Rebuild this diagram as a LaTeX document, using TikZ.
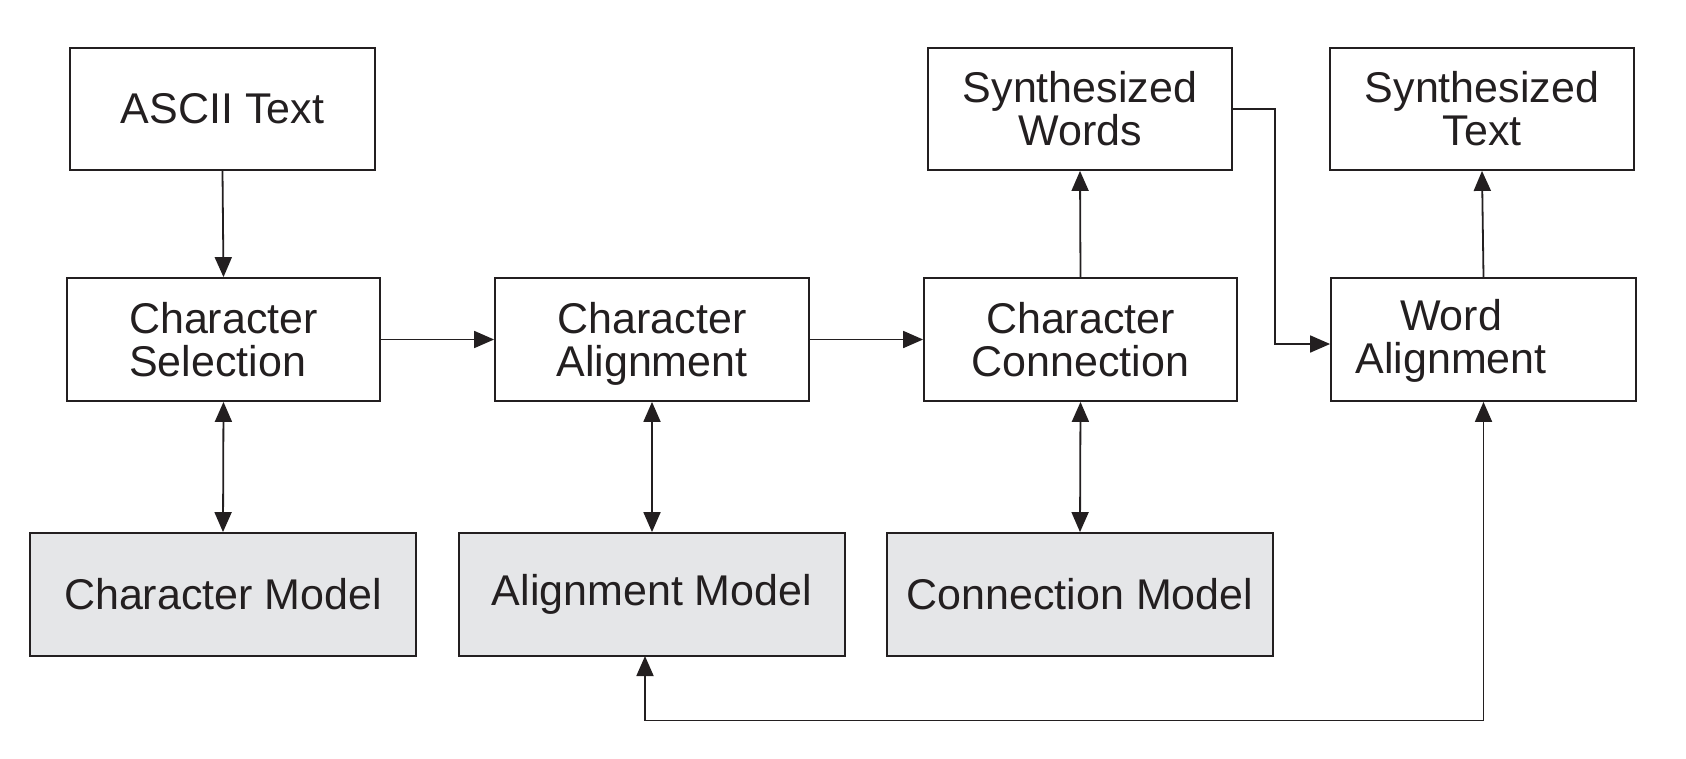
\documentclass[tikz,border=0pt]{standalone}
\usepackage{fontspec}
\setmainfont{Liberation Sans}
\usetikzlibrary{arrows.meta}
\definecolor{lineC}{HTML}{231F20}
\definecolor{modelC}{HTML}{E5E6E8}
\newcommand{\nodp}[1]{\raisebox{0pt}[\height][0pt]{#1}}
\tikzset{
  txt/.style={inner sep=0pt, align=center, font=\fontsize{43}{43}\selectfont, text=lineC},
  box/.style={txt, draw=lineC, line width=1.8pt},
  stepbox/.style={box, minimum width=310pt, minimum height=123pt},
  modelbox/.style={box, fill=modelC, minimum width=386pt, minimum height=123pt},
  conn/.style={draw=lineC, line width=1.8pt, -{Triangle[length=20pt,width=17pt]}},
  bconn/.style={draw=lineC, line width=1.8pt, {Triangle[length=20pt,width=17pt]}-{Triangle[length=20pt,width=17pt]}}
}
\begin{document}
\begin{tikzpicture}[x=1pt,y=-1pt]
\useasboundingbox (0,0) rectangle (1686,758);
\node[stepbox, minimum width=305pt, minimum height=122pt] (ascii) at (222.5,109) {ASCII Text};
\node[stepbox, minimum width=313pt, align=left] (cs) at (223.5,339.5) {Character\\Selection};
\node[stepbox, minimum width=314pt] (ca) at (652,339.5) {Character\\\nodp{Alignment}};
\node[stepbox, minimum width=313pt] (cc) at (1080.5,339.5) {Character\\Connection};
\node[stepbox, minimum width=305pt] (wa) at (1483.5,339.5) {};
\node[txt] (watext) at (1451,336) {Word\\\nodp{Alignment}};
\node[stepbox, minimum width=304pt, minimum height=122pt] (sw) at (1080,109) {Synthesized\\Words};
\node[stepbox, minimum width=304pt, minimum height=122pt] (st) at (1482,109) {Synthesized\\Text};
\node[modelbox] (cm) at (223,594.5) {Character Model};
\node[modelbox] (am) at (652,594.5) {\raisebox{4pt}{Alignment Model}};
\node[modelbox] (cnm) at (1080,594.5) {Connection Model};
\coordinate (bot) at (0,720.5);
\coordinate (elb) at (1275,0);
\coordinate (amin) at (645,656);
% connectors
\draw[conn] (ascii.south) -- (cs.north);
\draw[conn] (cs.east) -- (ca.west);
\draw[conn] (ca.east) -- (cc.west);
\draw[conn] (cc.north) -- (sw.south);
\draw[conn] (wa.north) -- (st.south);
\draw[conn] (sw.east) -- (sw.east -| elb) |- ([yshift=-4.5pt]wa.west);
\draw[bconn] (cs.south) -- (cm.north);
\draw[bconn] (ca.south) -- (am.north);
\draw[bconn] (cc.south) -- (cnm.north);
\draw[bconn] (amin) |- (wa.south |- bot) -- (wa.south);
\end{tikzpicture}
\end{document}
